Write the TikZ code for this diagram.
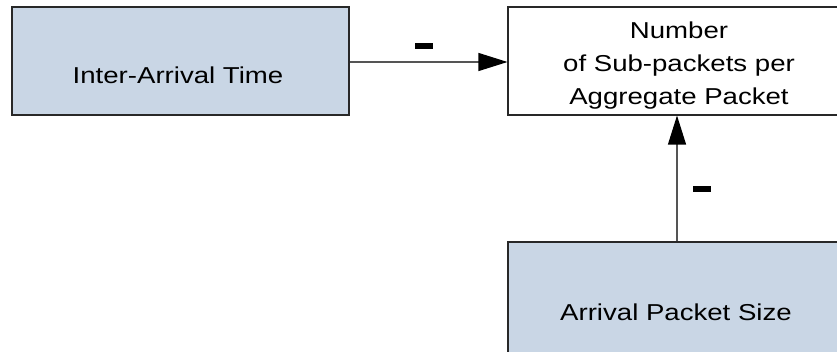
\documentclass[tikz,border=0pt]{standalone}
\usepackage{fontspec}
\setmainfont{Liberation Sans}
\newfontfamily\widesans[FakeStretch=1.2]{Liberation Sans}
\usetikzlibrary{arrows.meta}
\definecolor{boxfill}{RGB}{201,214,229}
\definecolor{boxline}{RGB}{40,40,40}
\definecolor{wire}{RGB}{85,85,85}
\tikzset{
  factor/.style={draw=boxline, line width=1.1pt, fill=boxfill, rectangle, inner sep=0pt},
  outcome/.style={draw=boxline, line width=1.1pt, fill=white, rectangle, inner sep=0pt},
  caption/.style={font=\widesans\fontsize{23}{33}\selectfont, align=center, inner sep=0pt},
  influence/.style={draw=wire, line width=1.1pt, -{Triangle[length=29pt, width=18pt, color=black, fill=black]}},
  sign/.style={fill=black, minimum width=18pt, minimum height=6pt, inner sep=0pt, rectangle}
}
\begin{document}
\begin{tikzpicture}[x=1pt, y=-1pt]
\useasboundingbox (0,0) rectangle (837,352);
\begin{scope}
\clip (0,0) rectangle (837,352);
% boxes
\node[factor, minimum width=337pt, minimum height=108pt] (iat) at (180.5,61) {};
\node[outcome, minimum width=340pt, minimum height=108pt] (nsp) at (678,61) {};
\node[factor, minimum width=340pt, minimum height=160pt] (aps) at (678,322) {};
% labels (base of a multi-line caption is its last line)
\node[caption, anchor=base] (iatt) at (178,83.3) {Inter-Arrival Time};
\node[caption, anchor=base] (nspt) at (679,104.5) {Number\\of Sub-packets per\\Aggregate Packet};
\node[caption, anchor=base] (apst) at (676,320) {Arrival Packet Size};
% connectors
\coordinate (h1) at (iat.east |- 0,62);
\coordinate (h2) at (nsp.west |- 0,62);
\draw[influence] (h1) -- (h2);
\coordinate (v1) at (677,0 |- aps.north);
\coordinate (v2) at (677,0 |- nsp.south);
\draw[influence] (v1) -- (v2);
% signs
\node[sign] (s1) at (424,46) {};
\node[sign] (s2) at (702,189) {};
\end{scope}
\end{tikzpicture}
\end{document}
